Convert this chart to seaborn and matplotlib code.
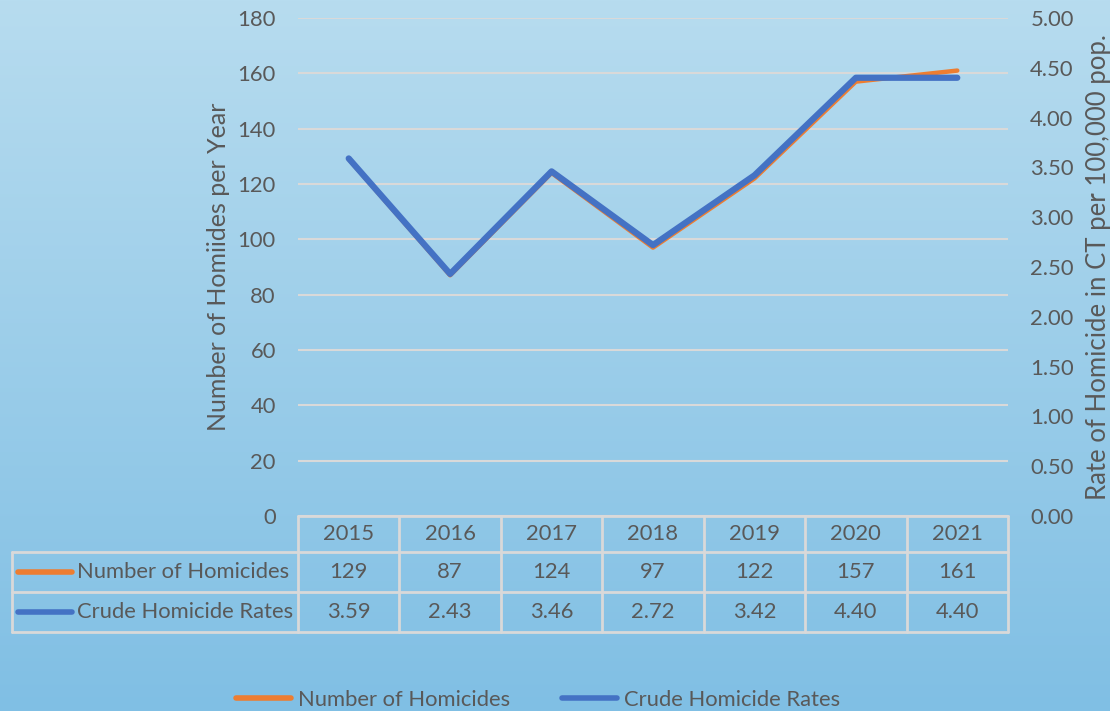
import numpy as np
import pandas as pd
import matplotlib
matplotlib.use("Agg")
import matplotlib.pyplot as plt
import matplotlib.transforms as mtransforms
from matplotlib.colors import LinearSegmentedColormap
from matplotlib.lines import Line2D
import seaborn as sns

# --- Data ---
YEARS = ['2015', '2016', '2017', '2018', '2019', '2020', '2021']
HOMICIDES = [129, 87, 124, 97, 122, 157, 161]
RATES = [3.59, 2.43, 3.46, 2.72, 3.42, 4.40, 4.40]

LABEL_COUNT = 'Number of Homicides'
LABEL_RATE = 'Crude Homicide Rates'

ORANGE = '#ED7D31'
BLUE = '#4472C4'
TEXT = '#595959'
GRID = '#D9D9D9'
FS = 15.8

sns.set_theme(style='white')
plt.rcParams['font.family'] = ['Lato', 'DejaVu Sans']

df = pd.DataFrame({'x': range(len(YEARS)), 'count': HOMICIDES, 'rate': RATES})

fig = plt.figure(figsize=(11.1, 7.11), dpi=100)

# gradient background
bg = fig.add_axes([0, 0, 1, 1], zorder=-10)
cmap = LinearSegmentedColormap.from_list('bg', ['#B7DCEF', '#80BFE4'])
bg.imshow(np.linspace(0, 1, 256).reshape(-1, 1), aspect='auto', cmap=cmap,
          extent=[0, 1, 0, 1])
bg.set_axis_off()

W, H = 1110, 711
left, right, top, bottom = 298, 1008, 18, 516
ax = fig.add_axes([left / W, 1 - bottom / H, (right - left) / W, (bottom - top) / H])
ax.patch.set_alpha(0)

sns.lineplot(data=df, x='x', y='count', ax=ax, color=ORANGE, linewidth=3.2,
             solid_capstyle='round', legend=False, zorder=3)
ax.set_ylim(0, 180)
ax.set_yticks(range(0, 181, 20))
ax.set_xlim(-0.5, len(YEARS) - 0.5)
ax.set_xticks([])
ax.grid(axis='y', color=GRID, linewidth=1.5)
ax.set_axisbelow(True)
for s in ax.spines.values():
    s.set_visible(False)
ax.tick_params(axis='y', length=0, pad=16, labelsize=FS, labelcolor=TEXT)
ax.set_xlabel('')
ax.set_ylabel('Number of Homiides per Year', fontsize=18, color=TEXT)
ax.yaxis.set_label_coords((230 - left) / (right - left), 0.5)

ax2 = ax.twinx()
ax2.patch.set_alpha(0)
sns.lineplot(data=df, x='x', y='rate', ax=ax2, color=BLUE, linewidth=4.5,
             solid_capstyle='round', legend=False, zorder=4)
ax2.set_ylim(0, 5)
ax2.set_yticks(np.arange(0, 5.01, 0.5))
ax2.set_yticklabels([f'{v:.2f}' for v in np.arange(0, 5.01, 0.5)])
for s in ax2.spines.values():
    s.set_visible(False)
ax2.tick_params(axis='y', length=0, pad=16, labelsize=FS, labelcolor=TEXT)
ax2.set_ylabel('Rate of Homicide in CT per 100,000 pop.', fontsize=18.5, color=TEXT)
ax2.yaxis.set_label_coords((1086 - left) / (right - left), 0.5)

# --- data table below the plot ---
trans = mtransforms.blended_transform_factory(ax.transData, fig.transFigure)
row_edges = [516, 552, 592, 632]
yf = [1 - r / H for r in row_edges]
lw = 2
n = len(YEARS)
xs = np.arange(n + 1) - 0.5
for xv in xs:
    fig.add_artist(Line2D([xv, xv], [yf[0], yf[3]], transform=trans, color=GRID, lw=lw))
for yv in yf:
    fig.add_artist(Line2D([xs[0], xs[-1]], [yv, yv], transform=trans, color=GRID, lw=lw))
lx0 = 12 / W
lx1 = left / W
for yv in yf[1:]:
    fig.add_artist(Line2D([lx0, lx1], [yv, yv], transform=fig.transFigure, color=GRID, lw=lw))
fig.add_artist(Line2D([lx0, lx0], [yf[1], yf[3]], transform=fig.transFigure, color=GRID, lw=lw))

def mid(a, b):
    return 1 - (a + b) / 2 / H

for i, yr in enumerate(YEARS):
    fig.text(i, mid(516, 552), yr, transform=trans, ha='center', va='center',
             fontsize=FS, color=TEXT)
    fig.text(i, mid(552, 592), str(HOMICIDES[i]), transform=trans, ha='center',
             va='center', fontsize=FS, color=TEXT)
    fig.text(i, mid(592, 632), f'{RATES[i]:.2f}', transform=trans, ha='center',
             va='center', fontsize=FS, color=TEXT)

for (r0, r1), lab, col in [((552, 592), LABEL_COUNT, ORANGE), ((592, 632), LABEL_RATE, BLUE)]:
    yc = mid(r0, r1)
    fig.add_artist(Line2D([18 / W, 72 / W], [yc, yc], transform=fig.transFigure,
                          color=col, lw=4, solid_capstyle='round'))
    fig.text(77 / W, yc, lab, ha='left', va='center', fontsize=FS, color=TEXT)

# --- legend at bottom ---
handles = [Line2D([], [], color=ORANGE, lw=4, solid_capstyle='round'),
           Line2D([], [], color=BLUE, lw=4, solid_capstyle='round')]
fig.legend(handles, [LABEL_COUNT, LABEL_RATE], loc='center', ncol=2,
           bbox_to_anchor=(538 / W, 1 - 700 / H), frameon=False, fontsize=FS,
           labelcolor=TEXT, handlelength=2.5, handletextpad=0.3, columnspacing=2.4)

fig.savefig('out.png', dpi=100)
